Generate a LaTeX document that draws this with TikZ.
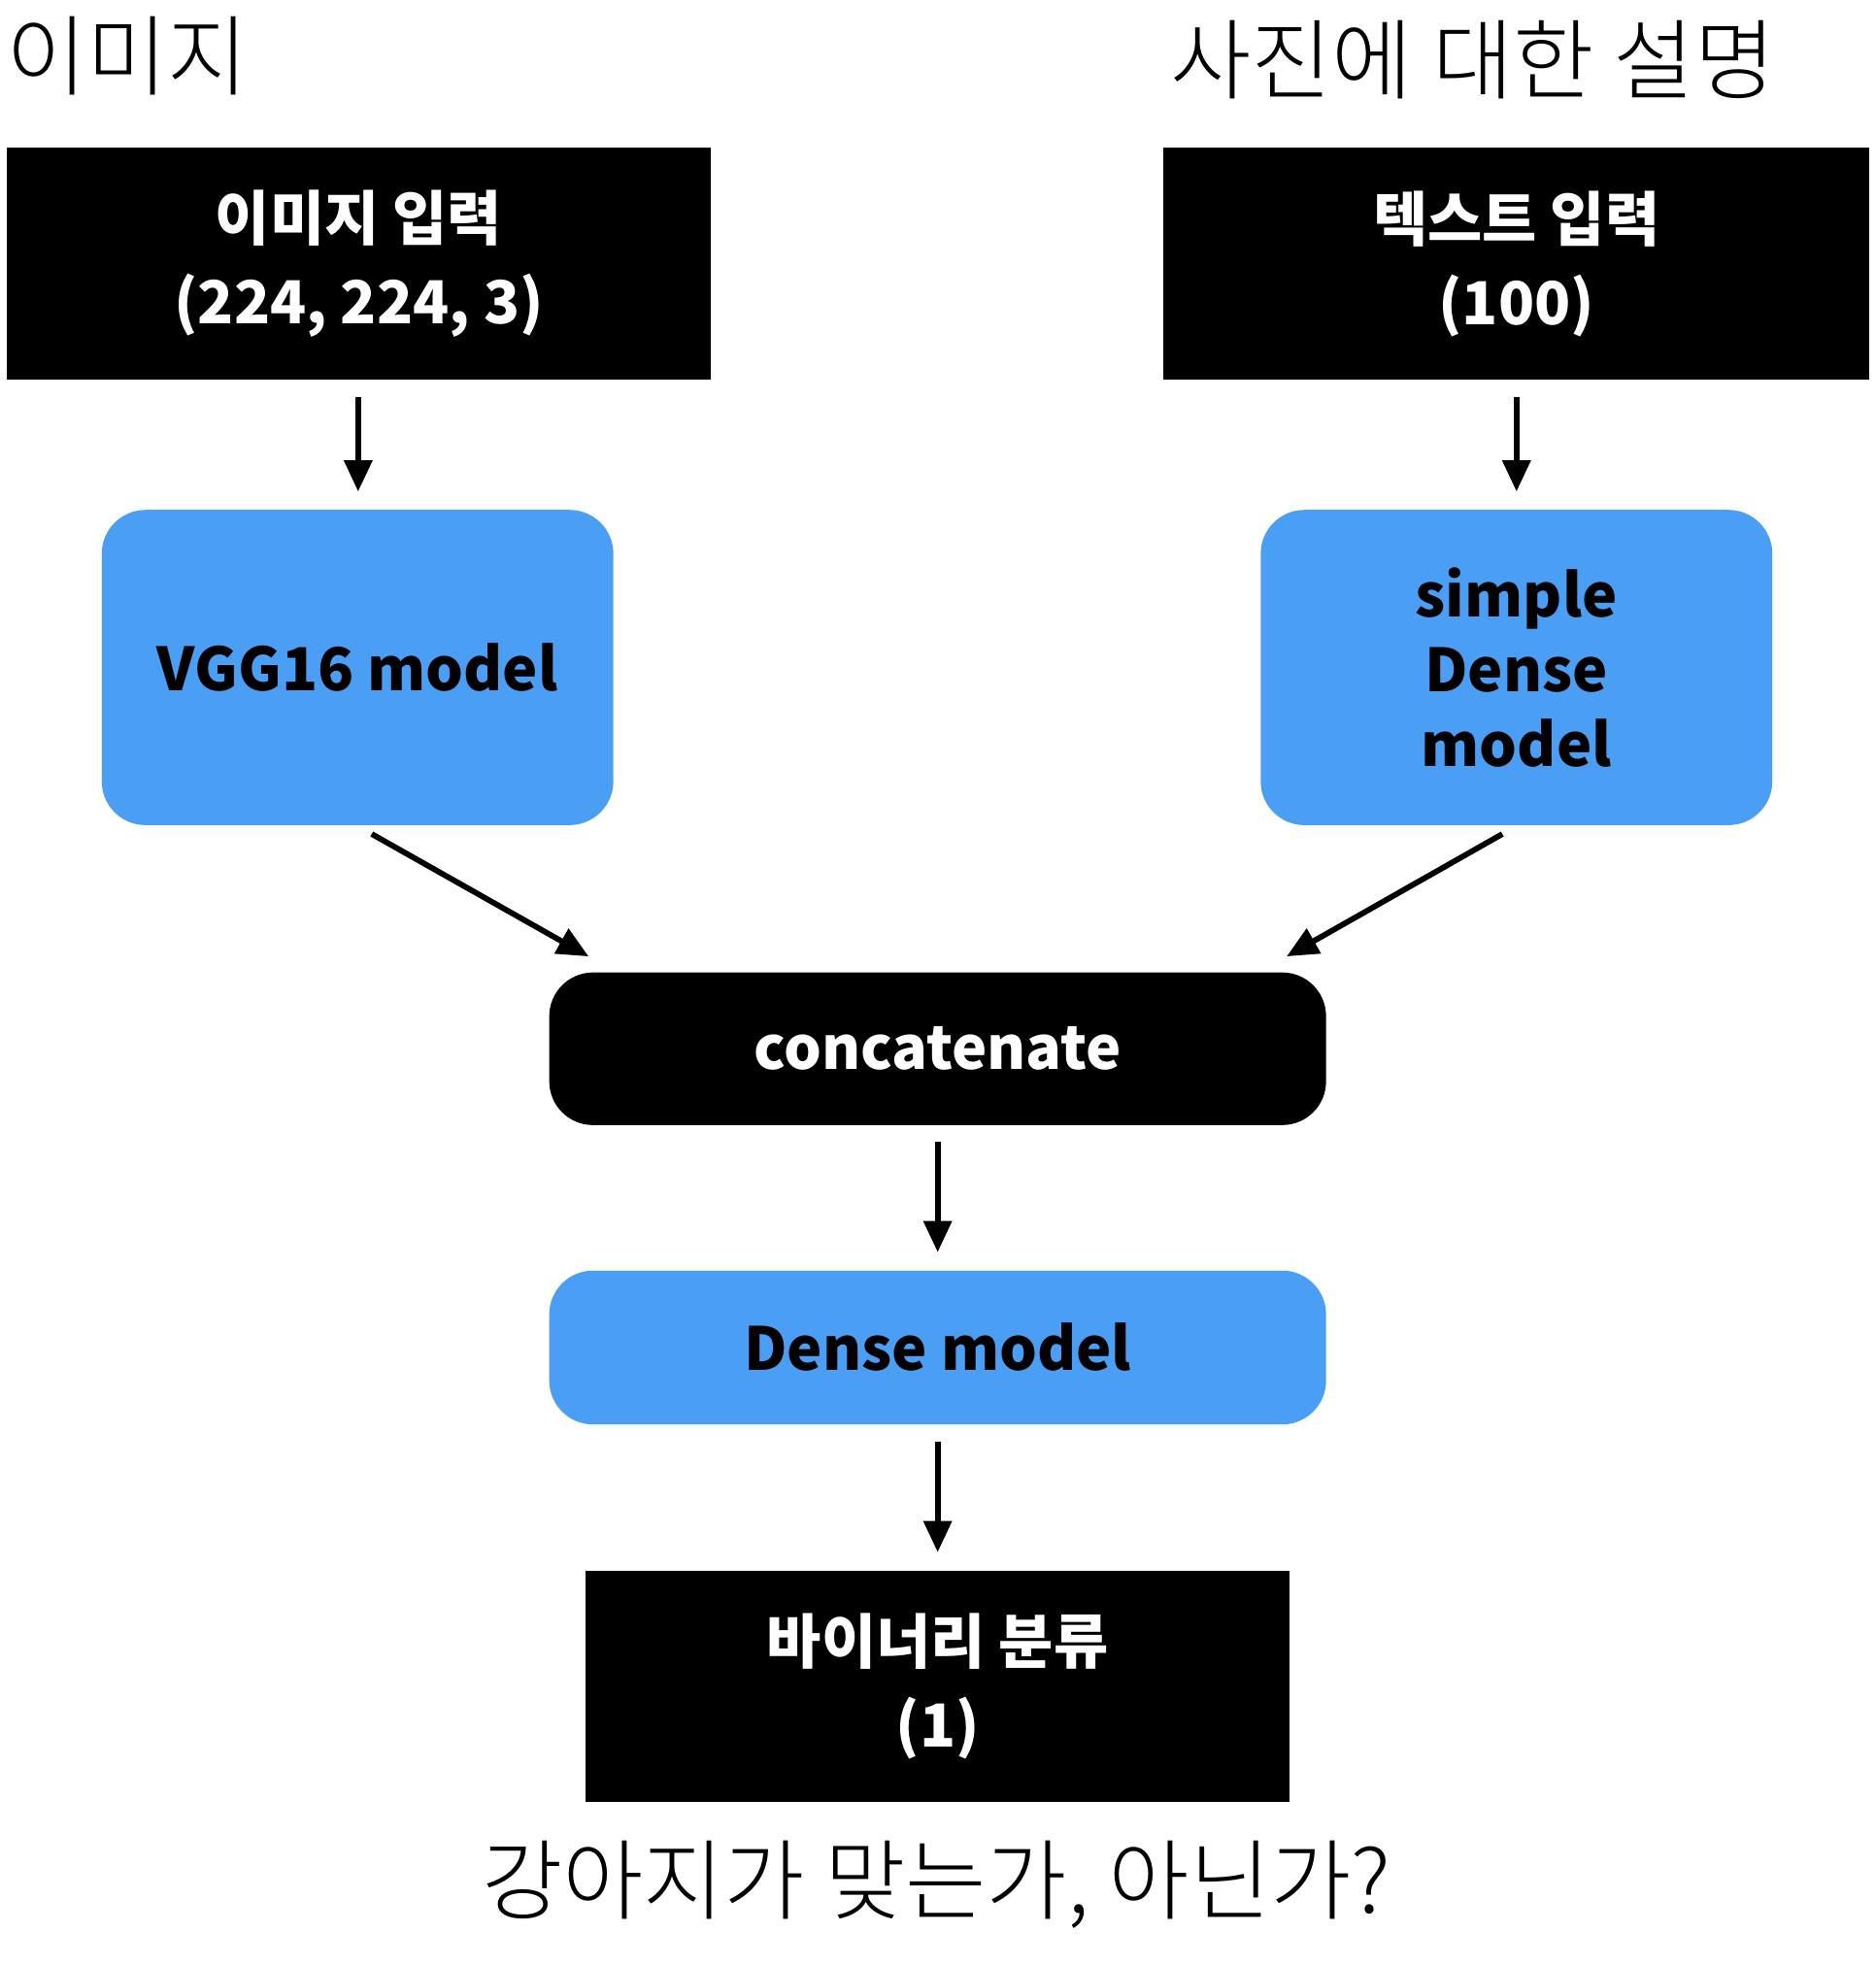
\documentclass[tikz,border=0pt]{standalone}
\usepackage{fontspec}
\setmainfont{Noto Sans CJK KR}
\newfontfamily\titlefont{Noto Sans CJK KR Light}
\usetikzlibrary{arrows.meta, positioning}
\definecolor{modelblue}{HTML}{4A9FF5}
\begin{document}
\begin{tikzpicture}[x=0.01cm, y=-0.01cm]
		\tikzset{
			inbox/.style={rectangle, fill=black, text=white, font=\bfseries\fontsize{13.5}{19}\selectfont, align=center, inner sep=0pt},
			model/.style={rectangle, rounded corners=0.35cm, fill=modelblue, text=black, font=\bfseries\fontsize{13.5}{17}\selectfont, align=center, inner sep=0pt},
			joinbox/.style={rectangle, rounded corners=0.35cm, fill=black, text=white, font=\bfseries\fontsize{13.5}{17}\selectfont, align=center, inner sep=0pt},
			caption/.style={font=\titlefont\fontsize{20}{24}\selectfont},
			flow/.style={-{Triangle[length=0.25cm, width=0.22cm]}, line width=0.045cm, shorten <=0.13cm, shorten >=0.14cm}
		}
		\useasboundingbox (0,0) rectangle (1500,1572);
		\node[caption] (imgtitle) at (102,45) {이미지};
		\node[caption] (texttitle) at (1178,48) {사진에 대한 설명};

		\node[inbox, minimum width=5.63cm, minimum height=1.86cm] (imgin) at (287,211) {이미지 입력\\(224, 224, 3)};
		\node[inbox, minimum width=5.64cm, minimum height=1.86cm] (textin) at (1213,211) {텍스트 입력\\(100)};
		\node[model, minimum width=4.09cm, minimum height=2.52cm] (vgg) at (286,534) {VGG16 model};
		\node[model, minimum width=4.09cm, minimum height=2.52cm] (simple) at (1213,534) {simple\\Dense\\model};
		\node[joinbox, minimum width=6.21cm, minimum height=1.22cm] (concat) at (750,839) {concatenate};
		\node[model, minimum width=6.21cm, minimum height=1.23cm] (dense) at (750,1078) {Dense model};
		\node[inbox, minimum width=5.63cm, minimum height=1.85cm] (binary) at (750,1349) {바이너리 분류\\(1)};
		\node[caption] (question) at (749,1508) {강아지가 맞는가, 아닌가?};

		\coordinate (concatleft) at (483,772);
		\coordinate (concatright) at (1017,772);

		\draw[flow] (imgin) -- (vgg);
		\draw[flow] (textin) -- (simple);
		\draw[flow] (vgg.south) -- (concatleft);
		\draw[flow] (simple.south) -- (concatright);
		\draw[flow] (concat) -- (dense);
		\draw[flow] (dense) -- (binary);
	\end{tikzpicture}
\end{document}
